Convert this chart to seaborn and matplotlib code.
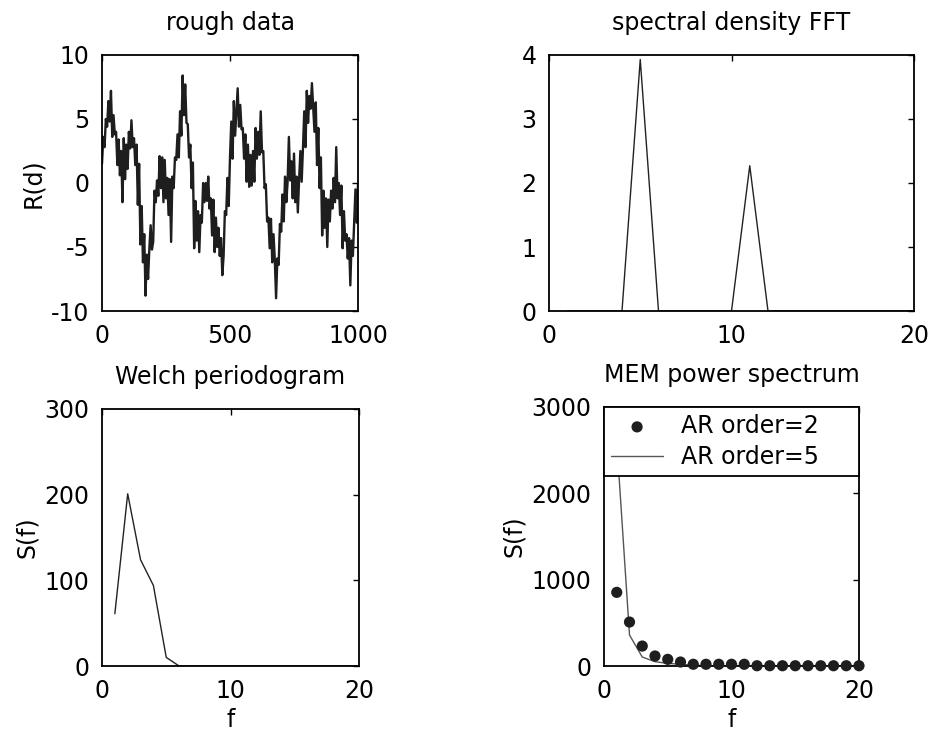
import numpy as np
import pandas as pd
import matplotlib
matplotlib.use("Agg")
import matplotlib.pyplot as plt
import seaborn as sns

# ---------------- data ----------------
rough = [1.5, 3.6, 2.8, 5.0, 4.4, 6.4, 4.8, 7.2, 3.6, 5.3, 3.8, 4.0, 1.4, 3.4, 0.6, 2.5, -1.5, 3.5, 0.3, 3.0,
         1.1, 4.0, 2.7, 4.9, 2.8, 3.5, 1.4, 3.0, -1.7, 1.5, -4.8, -1.8, -6.2, -4.0, -8.8, -5.6, -7.5, -5.1, -3.3, -5.2,
         -4.6, -0.6, -1.5, 0.2, -1.0, 2.1, -0.4, 2.0, -1.5, 1.8, -1.2, 0.4, -2.5, 0.3, -4.6, 0.5, -0.4, 2.0, 1.8, 3.8,
         2.0, 5.6, 3.7, 8.4, 5.3, 7.7, 4.7, 4.6, 2.0, 3.0, -0.4, 1.6, -5.1, -1.4, -4.5, -2.2, -5.4, -2.5, -3.1, 0.0,
         -1.5, 0.0, -1.4, 0.5, -2.0, -1.2, -4.1, -1.3, -5.4, -2.7, -5.0, -3.5, -5.7, -4.3, -7.2, -5.7, -2.2, -2.5, 0.4, -1.8,
         2.0, 4.8, 1.9, 6.4, 3.7, 5.5, 7.4, 4.4, 6.1, 4.2, 4.3, 1.9, 3.8, 0.1, 3.0, -0.3, 2.2, -0.2, 2.5, 0.1,
         4.3, 1.9, 4.0, 2.2, 5.6, 2.4, 2.5, -0.4, -0.1, -3.0, -2.7, -5.1, -2.8, -6.2, -4.0, -6.0, -9.0, -5.9, -6.4, -3.2,
         -3.8, -0.9, -3.0, 0.5, -1.5, 0.1, 3.6, 0.2, 1.7, -1.2, 2.3, -1.5, 0.5, -2.3, 0.3, 2.5, 0.1, 2.7, 5.6, 2.8,
         7.2, 4.7, 6.8, 5.8, 7.8, 5.9, 4.0, 6.3, 1.4, 4.3, -0.4, 2.0, -4.1, -0.6, -3.5, -1.2, -5.0, -1.3, -3.0, -0.6,
         -2.0, 0.4, -1.5, 2.8, -1.2, 0.0, -2.5, -0.2, -5.1, -2.2, -4.5, -4.0, -5.9, -4.3, -8.0, -4.5, -5.7, -3.2, -0.5, -3.1,
         -0.1]
rough_step = 5

freq = list(range(1, 21))
fft_density = [0, 0, 0, 0, 3.93, 0, 0, 0, 0, 0, 2.27, 0, 0, 0, 0, 0, 0, 0, 0, 0]
welch = [61, 201, 124, 94, 10, 0, 0, 0, 0, 0, 0, 0, 0, 0, 0, 0, 0, 0, 0, 0]
mem_ar2 = [853, 509, 231, 116, 77, 46, 20, 20, 20, 20, 20, 3, 3, 3, 3, 3, 3, 3, 3, 3]
mem_ar5 = [2600, 359, 104, 50, 30, 20, 10, 5, 3, 2, 2, 1, 1, 1, 1, 1, 1, 1, 1, 1]

titles = ["rough data", "spectral density FFT", "Welch periodogram", "MEM power spectrum"]

# ---------------- style ----------------
sns.set_style("white")
plt.rcParams["font.family"] = ["DejaVu Sans"]
plt.rcParams["axes.unicode_minus"] = False
for k in ("text.color", "axes.labelcolor", "xtick.color", "ytick.color"):
    plt.rcParams[k] = "black"
FS = 17

fig = plt.figure(figsize=(9.3, 7.33), dpi=100)
W, H = 930, 733

def add_ax(l, t, r, b):
    return fig.add_axes([l / W, 1 - b / H, (r - l) / W, (b - t) / H])

ax1 = add_ax(102, 55, 358, 311)
ax2 = add_ax(549, 55, 914, 311)
ax3 = add_ax(102, 409, 359, 666)
ax4 = add_ax(604, 407, 859, 666)

for ax in (ax1, ax2, ax3, ax4):
    ax.tick_params(direction="in", length=4, width=1, top=True, right=True,
                   labelsize=FS, pad=9, colors="black")
    for s in ax.spines.values():
        s.set_linewidth(1.3)
        s.set_color("black")

# rough data
df1 = pd.DataFrame({"d": np.arange(len(rough)) * rough_step, "R": rough})
sns.lineplot(data=df1, x="d", y="R", ax=ax1, color="#1e1e1e", linewidth=1.7)
ax1.set_xlim(0, 1000)
ax1.set_ylim(-10, 10)
ax1.set_xticks([0, 500, 1000])
ax1.set_yticks([-10, -5, 0, 5, 10])
ax1.set_xlabel("")
ax1.set_ylabel("R(d)", fontsize=FS)

# FFT
df2 = pd.DataFrame({"f": freq, "S": fft_density})
sns.lineplot(data=df2, x="f", y="S", ax=ax2, color="#222222", linewidth=1.0)
ax2.set_xlim(0, 20)
ax2.set_ylim(0, 4)
ax2.set_xticks([0, 10, 20])
ax2.set_yticks([0, 1, 2, 3, 4])
ax2.set_xlabel("")
ax2.set_ylabel("")

# Welch
df3 = pd.DataFrame({"f": freq, "S": welch})
sns.lineplot(data=df3, x="f", y="S", ax=ax3, color="#222222", linewidth=1.0)
ax3.set_xlim(0, 20)
ax3.set_ylim(0, 300)
ax3.set_xticks([0, 10, 20])
ax3.set_yticks([0, 100, 200, 300])
ax3.set_xlabel("f", fontsize=FS)
ax3.set_ylabel("S(f)", fontsize=FS)

# MEM
df4 = pd.DataFrame({"f": freq, "ar2": mem_ar2, "ar5": mem_ar5})
sns.scatterplot(data=df4, x="f", y="ar2", ax=ax4, color="#1e1e1e", s=65,
                edgecolor="none", label="AR order=2", zorder=3, clip_on=False)
sns.lineplot(data=df4, x="f", y="ar5", ax=ax4, color="#555555", linewidth=1.0,
             label="AR order=5")
ax4.set_xlim(0, 20)
ax4.set_ylim(0, 3000)
ax4.set_xticks([0, 10, 20])
ax4.set_yticks([0, 1000, 2000, 3000])
ax4.set_xlabel("f", fontsize=FS)
ax4.set_ylabel("S(f)", fontsize=FS)
leg = ax4.legend(loc="upper left", bbox_to_anchor=(0, 1, 1, 0), mode="expand",
                 borderaxespad=0, fancybox=False, framealpha=1, edgecolor="black",
                 fontsize=FS, handlelength=2.2, handletextpad=0.75, labelspacing=0.3,
                 borderpad=0.3)
leg.get_frame().set_linewidth(1.3)
leg.set_zorder(5)

for ax, t in zip((ax1, ax2, ax3, ax4), titles):
    ax.set_title(t, fontsize=FS, pad=18, color="black")

fig.savefig("out.png", dpi=100)
